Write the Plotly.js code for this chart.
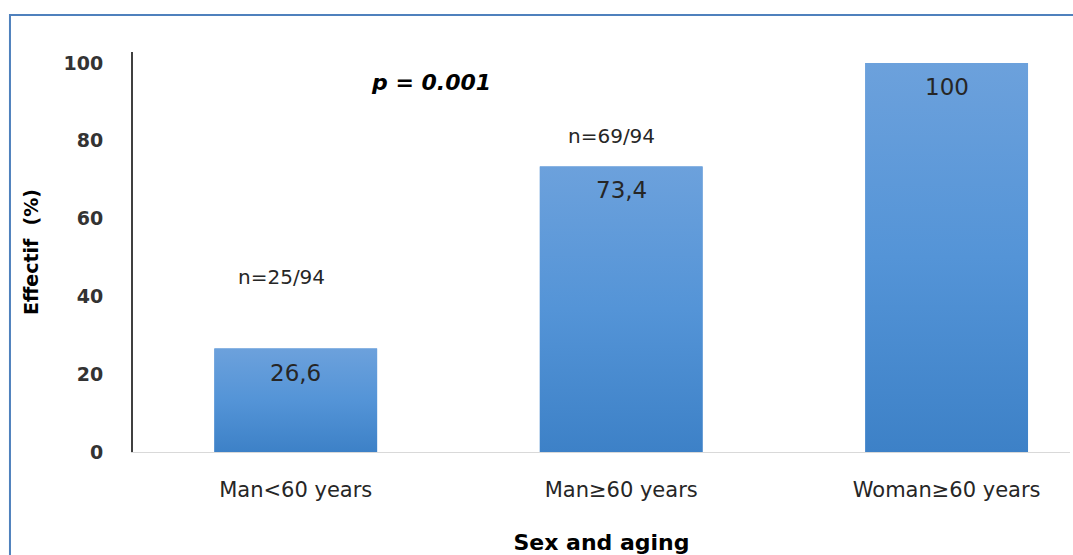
<!DOCTYPE html>
<html>
<head>
<meta charset="utf-8">
<script src="https://cdn.plot.ly/plotly-3.0.1.min.js"></script>
<style>
  html, body { margin: 0; padding: 0; background: #ffffff; }
  #chart { width: 1073px; height: 555px; }
</style>
</head>
<body>
<div id="chart"></div>
<script>
// ---- data ----
const categories = ['Man<60 years', 'Man\u226560 years', 'Woman\u226560 years'];
const percentages = [26.6, 73.4, 100];
const countLabels = ['n=25/94', 'n=69/94', 'n=26/26'];
const pValueText = 'p = 0.001';
const yTickValues = [0, 20, 40, 60, 80, 100];

// ---- styling / placement (not data) ----
const nLabelY = [45.0, 81.2, 105.0];   // where the n= text boxes sit (axis units)
const nLabelShift = [-14, -10, 10];    // horizontal nudge of the n= boxes (px)
const barWidth = 0.5;
const FONT = 'DejaVu Sans, Verdana, sans-serif';
const TEXT = '#262626';

const xIdx = categories.map((c, i) => i);

const traces = [];
// main bars
traces.push({
  type: 'bar',
  x: xIdx,
  y: percentages,
  width: barWidth,
  marker: { color: '#5592d5', line: { width: 0 } },
  hoverinfo: 'skip',
  showlegend: false
});
// gradient overlay per bar (derived from the same values)
percentages.forEach((v, i) => {
  const x0 = xIdx[i] - barWidth / 2, x1 = xIdx[i] + barWidth / 2;
  traces.push({
    type: 'scatter',
    mode: 'none',
    x: [x0, x0, x1, x1, x0],
    y: [0, v, v, 0, 0],
    fill: 'toself',
    fillcolor: '#5592d5',
    fillgradient: {
      type: 'vertical',
      start: 0,
      stop: v,
      colorscale: [[0, '#3d81c7'], [0.5, '#5494d7'], [1, '#6ca1dc']]
    },
    hoverinfo: 'skip',
    showlegend: false
  });
});

const annotations = [];
percentages.forEach((v, i) => {
  annotations.push({
    x: xIdx[i], y: v, xref: 'x', yref: 'y',
    text: String(v).replace('.', ','),
    showarrow: false, yanchor: 'middle', yshift: -24,
    font: { family: FONT, size: 23, color: TEXT }
  });
  annotations.push({
    x: xIdx[i], y: nLabelY[i], xref: 'x', yref: 'y',
    text: countLabels[i],
    showarrow: false, yanchor: 'middle', xshift: nLabelShift[i],
    font: { family: FONT, size: 20, color: TEXT }
  });
});
annotations.push({
  x: 0.415, y: 94.9, xref: 'x', yref: 'y',
  text: pValueText, showarrow: false, yanchor: 'middle',
  font: { family: FONT, size: 22, color: '#000000', weight: 'bold', style: 'italic' }
});

const layout = {
  width: 1073, height: 555,
  margin: { l: 133, r: 3, t: 52, b: 103, pad: 0 },
  paper_bgcolor: '#ffffff', plot_bgcolor: '#ffffff',
  showlegend: false,
  font: { family: FONT, color: TEXT },
  xaxis: {
    range: [-0.5, 2.379],
    tickvals: xIdx, ticktext: categories,
    tickfont: { family: FONT, size: 21, color: TEXT },
    ticks: '', ticklabelstandoff: 19,
    showgrid: false, zeroline: false,
    showline: true, linecolor: '#d9d9d9', linewidth: 1,
    title: { text: 'Sex and aging', standoff: 33,
             font: { family: FONT, size: 22, color: '#000000', weight: 'bold' } },
    fixedrange: true
  },
  yaxis: {
    range: [0, 102.8],
    tickvals: yTickValues,
    tickfont: { family: FONT, size: 19, color: '#333333', weight: 'bold' },
    ticks: '', ticklabelstandoff: 24,
    showgrid: false, zeroline: false,
    showline: true, linecolor: '#404040', linewidth: 2,
    title: { text: 'Effectif  (%)', standoff: 20,
             font: { family: FONT, size: 19, color: '#000000', weight: 'bold' } },
    fixedrange: true
  },
  annotations: annotations,
  shapes: [{
    type: 'rect', xref: 'paper', yref: 'paper',
    x0: -0.1313, x1: 1.2, y0: -0.6, y1: 1.0925,
    line: { color: '#4f81bd', width: 2 }, fillcolor: 'rgba(0,0,0,0)', layer: 'above'
  }]
};

Plotly.newPlot('chart', traces, layout, { staticPlot: true, displayModeBar: false });
</script>
</body>
</html>
